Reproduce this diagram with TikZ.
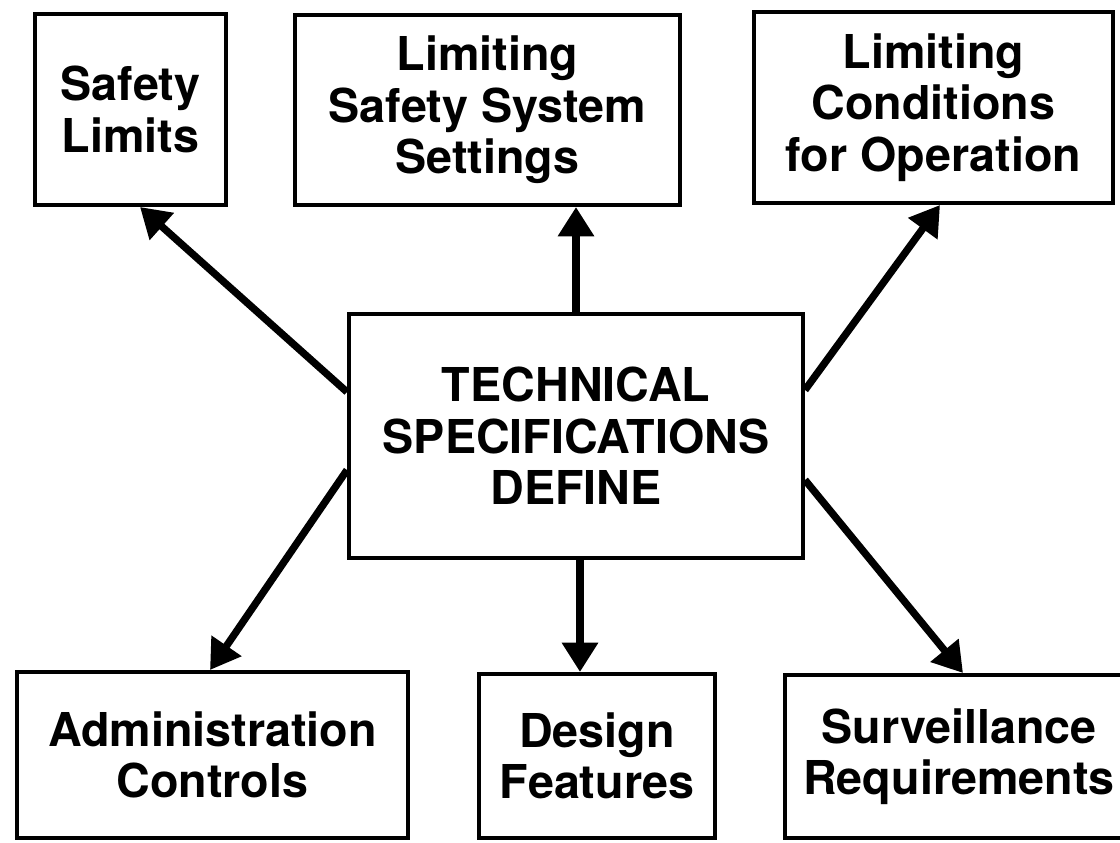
\documentclass[tikz,border=0pt]{standalone}
\usepackage{fontspec}
\setmainfont{TeX Gyre Heros}
\usetikzlibrary{arrows.meta,calc}
\tikzset{
  box/.style={draw, line width=3pt, inner sep=0pt, align=center,
    font=\bfseries\fontsize{35}{38.5}\selectfont},
  arr/.style={line width=5.5pt, -{Triangle[length=22pt,width=26pt]}}
}
\begin{document}
\begin{tikzpicture}[x=0.75pt,y=-0.75pt]
\useasboundingbox[fill=white] (0,0) rectangle (1120,842);
\node[box, minimum width=191*0.75pt, minimum height=191*0.75pt] (sl) at (130.5,109.5) {Safety\\Limits};
\node[box, minimum width=385*0.75pt, minimum height=190*0.75pt] (lsss) at (487.5,110) {Limiting\\Safety System\\Settings};
\node[box, minimum width=359*0.75pt, minimum height=191*0.75pt] (lco) at (933.5,107.5) {Limiting\\Conditions\\for Operation};
\node[box, minimum width=454*0.75pt, minimum height=244*0.75pt] (tsd) at (576,436) {TECHNICAL\\SPECIFICATIONS\\DEFINE};
\node[box, minimum width=391*0.75pt, minimum height=166*0.75pt] (ac) at (212.5,755) {Administration\\Controls};
\node[box, minimum width=236*0.75pt, minimum height=164*0.75pt] (df) at (597,756) {Design\\Features};
\node[box, minimum width=348*0.75pt, minimum height=163*0.75pt] (sr) at (959,756.5) {Surveillance\\Requirements};
\draw[arr] ($(tsd.north west)+(0,80)$) -- ($(sl.south west)+(107,0)$);
\draw[arr] (tsd.north) -- (tsd.north |- lsss.south);
\draw[arr] ($(tsd.north east)+(0,78)$) -- ($(lco.south west)+(188,0)$);
\draw[arr] ($(tsd.north west)+(0,158)$) -- ($(ac.north west)+(195,0)$);
\draw[arr] ($(tsd.south)+(4,0)$) -- ($(df.north west)+(103,0)$);
\draw[arr] ($(tsd.north east)+(0,168)$) -- ($(sr.north west)+(180,0)$);
\end{tikzpicture}
\end{document}
